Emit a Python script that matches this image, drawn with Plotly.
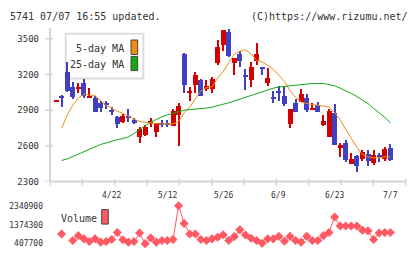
import plotly.graph_objects as go

# ---------------- data ----------------
dates = ["4/8", "4/9", "4/10", "4/13", "4/14", "4/15", "4/16", "4/17", "4/20", "4/21",
         "4/22", "4/23", "4/24", "4/27", "4/28", "4/30", "5/1", "5/7", "5/8", "5/11",
         "5/12", "5/13", "5/14", "5/15", "5/18", "5/19", "5/20", "5/21", "5/22", "5/25",
         "5/26", "5/27", "5/28", "5/29", "6/1", "6/2", "6/3", "6/4", "6/5", "6/8",
         "6/9", "6/10", "6/11", "6/12", "6/15", "6/16", "6/17", "6/18", "6/19", "6/22",
         "6/23", "6/24", "6/25", "6/26", "6/29", "6/30", "7/1", "7/2", "7/3", "7/6",
         "7/7"]

opens = [2978, 3025, 3224, 3095, 3084, 3130, 3008, 3008, 2967, 2956,
         2895, 2851, 2805, 2848, 2819, 2675, 2692, 2797, 2724, 2797,
         2797, 2773, 2865, 3373, 3050, 3116, 3157, 3086, 3081, 3300,
         3454, 3562, 3300, 3378, 3195, 3157, 3319, 3262, 3130, 3008,
         3067, 3027, 2786, 2962, 2975, 3008, 2906, 2949, 2778, 2683,
         2881, 2584, 2630, 2448, 2516, 2495, 2535, 2462, 2527, 2495,
         2584]
highs = [2984, 3028, 3311, 3143, 3130, 3170, 3089, 3022, 2981, 2981,
         2927, 2855, 2873, 2914, 2841, 2765, 2778, 2841, 2800, 2819,
         2819, 2911, 2962, 3386, 3095, 3224, 3170, 3157, 3184, 3494,
         3581, 3589, 3346, 3400, 3251, 3305, 3468, 3262, 3257, 3062,
         3108, 3103, 2914, 3000, 3086, 3043, 2967, 2975, 2865, 2914,
         2954, 2630, 2652, 2541, 2530, 2570, 2568, 2568, 2541, 2594,
         2616]
lows = [2978, 2927, 3060, 2995, 3048, 3008, 3008, 2886, 2886, 2914,
        2860, 2752, 2797, 2805, 2784, 2630, 2686, 2760, 2675, 2765,
        2765, 2773, 2602, 3048, 2981, 3048, 3022, 3062, 3048, 3283,
        3400, 3352, 3197, 3270, 3076, 3097, 3287, 3197, 3108, 2962,
        2981, 2940, 2752, 2886, 2975, 2892, 2906, 2886, 2770, 2683,
        2610, 2513, 2465, 2448, 2383, 2481, 2432, 2440, 2468, 2481,
        2481]
closes = [2984, 3012, 3062, 3013, 3095, 3022, 3027, 2886, 2919, 2950,
          2890, 2786, 2859, 2843, 2797, 2746, 2765, 2808, 2800, 2778,
          2778, 2900, 2941, 3116, 3054, 3198, 3022, 3108, 3170, 3435,
          3581, 3360, 3346, 3319, 3190, 3270, 3378, 3257, 3176, 3004,
          3056, 2954, 2914, 2886, 3043, 2908, 2924, 2886, 2811, 2900,
          2610, 2608, 2489, 2494, 2432, 2554, 2481, 2527, 2508, 2576,
          2489]

ma5 = [None, 2746, 2859, 2941, 3000, 3035, 3027, 3022, 2981, 2941,
       2919, 2892, 2873, 2846, 2825, 2805, 2797, 2792, 2786, 2784,
       2782, 2786, 2803, 2878, 2927, 2995, 3062, 3089, 3095, 3170,
       3224, 3300, 3370, 3395, 3408, 3373, 3319, 3305, 3278, 3243,
       3189, 3143, 3062, 3008, 2967, 2954, 2946, 2941, 2932, 2927,
       2881, 2819, 2738, 2662, 2589, 2527, 2508, 2500, 2500, 2508,
       2508]
ma25 = [None, 2478, 2490, 2510, 2530, 2555, 2575, 2595, 2612, 2625,
        2640, 2652, 2662, 2675, 2705, 2735, 2770, 2800, 2822, 2845,
        2860, 2875, 2890, 2900, 2905, 2908, 2912, 2918, 2925, 2935,
        2950, 2962, 2978, 2995, 3008, 3022, 3040, 3058, 3075, 3085,
        3095, 3100, 3110, 3115, 3120, 3124, 3124, 3124, 3124, 3115,
        3105, 3085, 3065, 3040, 3015, 2985, 2955, 2915, 2880, 2840,
        2795]

volume = [None, 900000, None, 570000, 816000, 654000, 521000, 654000, 486000, 521000,
          619000, 978000, 604000, 486000, 521000, 949000, 407700, 703000, 486000, 570000,
          570000, 619000, 2340900, 1441000, 900000, 900000, 619000, 570000, 654000, 732000,
          865000, 570000, 767000, 1111000, 850000, 683000, 570000, 430000, 654000, 654000,
          781000, 536000, 781000, 570000, 486000, 781000, 570000, 570000, 816000, 978000,
          1765000, 1308000, 1308000, 1308000, 1308000, 1096000, 1062000, 619000, 949000, 978000,
          978000]

price_ticks = [2300, 2600, 2900, 3200, 3500]
vol_ticks = [407700, 1374300, 2340900]
date_labels = ["4/22", "5/12", "5/26", "6/9", "6/23", "7/7"]

# ---------------- geometry helpers ----------------
W, H = 420, 259
def fx(p):
    return p / W
def fy(p):
    return (H - p) / H

FONT = "DejaVu Sans Mono"
TXT = "#333333"
RED = "#d40000"
BLUE = "#4040c0"
ORANGE = "#f08c14"
GREEN = "#14a814"
PINK = "#ff5a64"
AX = "#d4d4d4"

X_LEFT, X_RIGHT = 50, 405.7
X_RANGE = [-1.08, 62.76]
Y_BOT, Y_TOP = 184, 14
PX_PER_300 = 37.0
y_top_val = 2300 + (Y_BOT - Y_TOP) * 300 / PX_PER_300

idx = list(range(len(dates)))
cols = [RED if c >= o else BLUE for o, c in zip(opens, closes)]

fig = go.Figure()
# wicks
fig.add_trace(go.Bar(x=idx, y=[h - l for h, l in zip(highs, lows)], base=lows,
                     width=0.2, marker=dict(color=cols, line=dict(width=0)),
                     xaxis="x", yaxis="y", hoverinfo="skip"))
# bodies
body_h = [max(abs(c - o), 9) for o, c in zip(opens, closes)]
body_b = [min(o, c) for o, c in zip(opens, closes)]
fig.add_trace(go.Bar(x=idx, y=body_h, base=body_b, width=0.9,
                     marker=dict(color=cols, line=dict(width=0)),
                     xaxis="x", yaxis="y", hoverinfo="skip"))
fig.add_trace(go.Scatter(x=idx, y=ma5, mode="lines", line=dict(color=ORANGE, width=1),
                         xaxis="x", yaxis="y"))
fig.add_trace(go.Scatter(x=idx, y=ma25, mode="lines", line=dict(color=GREEN, width=1),
                         xaxis="x", yaxis="y"))
fig.add_trace(go.Scatter(x=idx, y=volume, mode="lines+markers",
                         line=dict(color=PINK, width=1),
                         marker=dict(symbol="diamond", size=7, color=PINK),
                         cliponaxis=False, xaxis="x2", yaxis="y2"))

shapes = []
# axis lines
shapes.append(dict(type="line", xref="paper", yref="paper", x0=fx(X_LEFT), x1=fx(X_LEFT),
                   y0=fy(Y_BOT), y1=fy(25), line=dict(color=AX, width=2), layer="below"))
shapes.append(dict(type="line", xref="paper", yref="paper", x0=fx(X_LEFT), x1=fx(X_RIGHT),
                   y0=fy(Y_BOT), y1=fy(Y_BOT), line=dict(color=AX, width=2), layer="below"))
for k in range(12):
    xp = X_LEFT + k * (X_RIGHT - X_LEFT) / 11
    shapes.append(dict(type="line", xref="paper", yref="paper", x0=fx(xp), x1=fx(xp),
                       y0=fy(188), y1=fy(181), line=dict(color=AX, width=1.5), layer="below"))
for v in price_ticks:
    shapes.append(dict(type="line", xref="paper", yref="y", x0=fx(45), x1=fx(53),
                       y0=v, y1=v, line=dict(color=AX, width=1.5), layer="below"))
# legend box
shapes.append(dict(type="rect", xref="paper", yref="paper", x0=fx(65.7), x1=fx(143.3),
                   y0=fy(77.3), y1=fy(30.7), line=dict(color="#dddddd", width=2),
                   fillcolor="white", layer="below"))
shapes.append(dict(type="rect", xref="paper", yref="paper", x0=fx(131), x1=fx(137.7),
                   y0=fy(52.3), y1=fy(37.3), line=dict(color="#444444", width=1),
                   fillcolor=ORANGE))
shapes.append(dict(type="rect", xref="paper", yref="paper", x0=fx(131), x1=fx(137.7),
                   y0=fy(69), y1=fy(54.3), line=dict(color="#444444", width=1),
                   fillcolor=GREEN))
shapes.append(dict(type="rect", xref="paper", yref="paper", x0=fx(101.7), x1=fx(108.3),
                   y0=fy(228), y1=fy(213), line=dict(color="#444444", width=1),
                   fillcolor=PINK))

ann = []
ann.append(dict(text="5741 07/07 16:55 updated.", xref="paper", yref="paper", x=fx(8), y=fy(12.7),
                xanchor="left", yanchor="middle", showarrow=False, font=dict(family=FONT, size=10, color=TXT)))
ann.append(dict(text="(C)https://www.rizumu.net/", xref="paper", yref="paper", x=fx(409.5), y=fy(12.7),
                xanchor="right", yanchor="middle", showarrow=False, font=dict(family=FONT, size=10, color=TXT)))
ann.append(dict(text="5-day MA", xref="paper", yref="paper", x=fx(125.5), y=fy(46.5),
                xanchor="right", yanchor="middle", showarrow=False, font=dict(family=FONT, size=10, color=TXT)))
ann.append(dict(text="25-day MA", xref="paper", yref="paper", x=fx(125.5), y=fy(62.5),
                xanchor="right", yanchor="middle", showarrow=False, font=dict(family=FONT, size=10, color=TXT)))
ann.append(dict(text="Volume", xref="paper", yref="paper", x=fx(58.5), y=fy(222.5),
                xanchor="left", yanchor="middle", showarrow=False, font=dict(family=FONT, size=10, color=TXT)))
for lab in date_labels:
    ann.append(dict(text=lab, xref="x", yref="paper", x=dates.index(lab), y=fy(198),
                    xanchor="center", yanchor="middle", showarrow=False,
                    font=dict(family=FONT, size=8, color=TXT)))

fig.update_layout(
    width=W, height=H, margin=dict(l=0, r=0, t=0, b=0),
    paper_bgcolor="white", plot_bgcolor="white",
    showlegend=False, barmode="overlay", bargap=0,
    xaxis=dict(domain=[fx(X_LEFT), fx(X_RIGHT)], range=X_RANGE, anchor="y",
               showticklabels=False, showgrid=False, zeroline=False, showline=False, ticks=""),
    yaxis=dict(domain=[fy(Y_BOT), fy(Y_TOP)], range=[2300, y_top_val], anchor="x",
               tickvals=price_ticks, ticktext=[str(v) for v in price_ticks],
               showgrid=False, zeroline=False, showline=False, ticks="",
               ticklabelstandoff=10, tickfont=dict(family=FONT, size=9, color=TXT)),
    xaxis2=dict(domain=[fx(X_LEFT), fx(X_RIGHT)], range=X_RANGE, anchor="y2",
                showticklabels=False, showgrid=False, zeroline=False, showline=False, ticks=""),
    yaxis2=dict(domain=[fy(248.3), fy(209)], range=[vol_ticks[0], vol_ticks[-1]], anchor="x2",
                tickvals=vol_ticks, ticktext=[str(v) for v in vol_ticks],
                showgrid=False, zeroline=False, showline=False, ticks="",
                ticklabelstandoff=6, tickfont=dict(family=FONT, size=8, color=TXT)),
    shapes=shapes, annotations=ann,
)

fig.write_html("out.html")
